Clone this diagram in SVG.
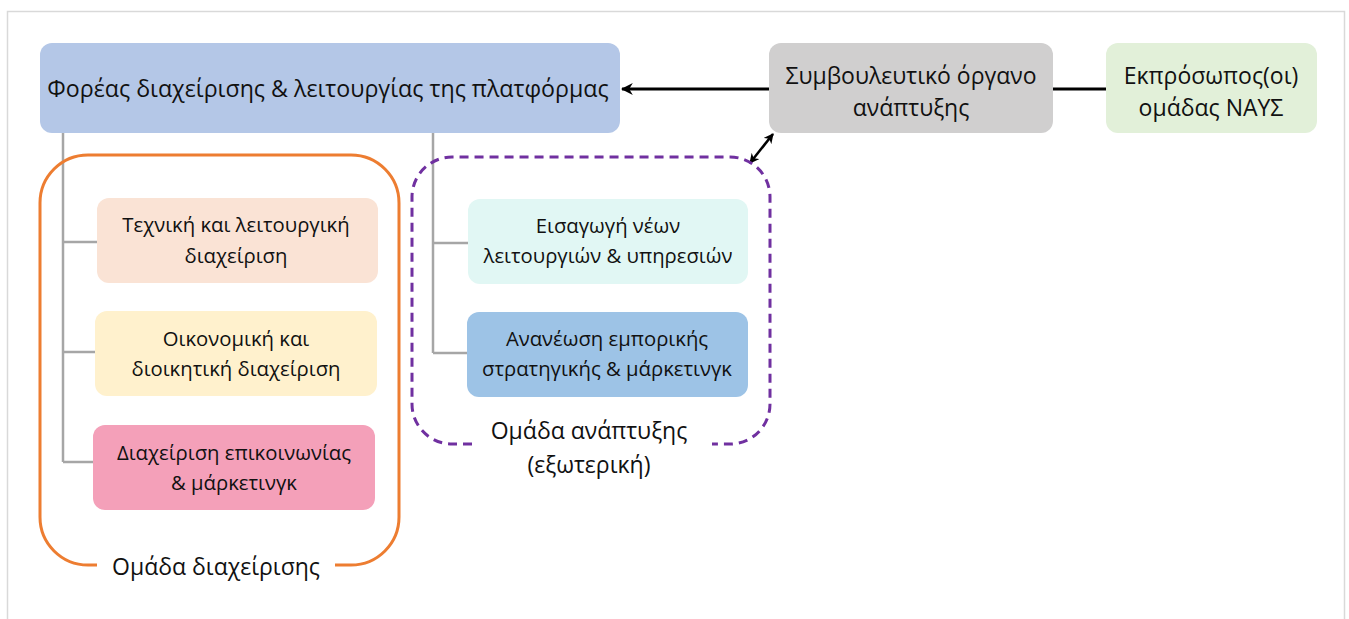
<svg xmlns="http://www.w3.org/2000/svg" width="1349" height="619" viewBox="0 0 1349 619">
<defs>
<marker id="ah" viewBox="0 0 10 10" refX="9" refY="5" markerWidth="4" markerHeight="4" orient="auto-start-reverse" markerUnits="strokeWidth">
<path d="M0,0 L10,5 L0,10 L3,5 Z" fill="#000"/>
</marker>
<style>
.t{font-family:"Open Sans","Noto Sans",sans-serif;fill:#111;text-anchor:middle}
.s{font-size:20.3px}
.m{font-size:23px}
.tree{stroke:#a6a6a6;stroke-width:2.5;fill:none}
</style>
</defs>
<rect width="1349" height="619" fill="#fff"/>
<rect x="7.5" y="11.5" width="1337" height="640" fill="none" stroke="#d9d9d9" stroke-width="1.5"/>

<g id="connectors">
<path class="tree" d="M63,133 V462 M63,242 H97 M63,352 H95 M63,462 H93"/>
<path class="tree" d="M433,133 V353 M433,243 H468 M433,353 H467"/>
<line x1="769" y1="89" x2="622" y2="89" stroke="#000" stroke-width="3" marker-end="url(#ah)"/>
<line x1="1053" y1="89" x2="1106" y2="89" stroke="#000" stroke-width="3"/>
<line x1="773" y1="134" x2="750" y2="163" stroke="#000" stroke-width="2.5" marker-start="url(#ah)" marker-end="url(#ah)"/>
</g>

<g id="group-management">
<path d="M97,565 H88 A48,48 0 0 1 40,517 V203 A48,48 0 0 1 88,155 H351 A48,48 0 0 1 399,203 V517 A48,48 0 0 1 351,565 H335" fill="none" stroke="#ed7d31" stroke-width="3"/>
<text class="t" x="216" y="575" font-size="23">Ομάδα διαχείρισης</text>
</g>

<g id="group-development">
<path d="M472,444 H452 A40,40 0 0 1 412,404 V197 A40,40 0 0 1 452,157 H730 A40,40 0 0 1 770,197 V404 A40,40 0 0 1 730,444 H712" fill="none" stroke="#7030a0" stroke-width="3" stroke-dasharray="9,6"/>
<text class="t" x="589" y="439" font-size="23">Ομάδα ανάπτυξης</text>
<text class="t" x="589" y="473" font-size="23">(εξωτερική)</text>
</g>

<g id="node-main">
<rect x="40" y="43" width="580" height="90" rx="12" fill="#b4c7e7"/>
<text class="t" x="328" y="97" font-size="23.2">Φορέας διαχείρισης &amp; λειτουργίας της πλατφόρμας</text>
</g>

<g id="node-advisory">
<rect x="769" y="43" width="284" height="90" rx="12" fill="#d0cfcf"/>
<text class="t m" x="911" y="84">Συμβουλευτικό όργανο</text>
<text class="t m" x="911" y="116">ανάπτυξης</text>
</g>

<g id="node-naus">
<rect x="1106" y="43" width="211" height="90" rx="12" fill="#e2f0d9"/>
<text class="t m" x="1211" y="84">Εκπρόσωπος(οι)</text>
<text class="t m" x="1211" y="116">ομάδας ΝΑΥΣ</text>
</g>

<g id="node-tech">
<rect x="97" y="198" width="281" height="85" rx="12" fill="#fae3d5"/>
<text class="t s" x="236" y="232">Τεχνική και λειτουργική</text>
<text class="t s" x="236" y="263">διαχείριση</text>
</g>

<g id="node-finance">
<rect x="95" y="311" width="282" height="85" rx="12" fill="#fff1cd"/>
<text class="t s" x="236" y="346">Οικονομική και</text>
<text class="t s" x="236" y="376">διοικητική διαχείριση</text>
</g>

<g id="node-comm">
<rect x="93" y="425" width="282" height="85" rx="12" fill="#f4a0b9"/>
<text class="t s" x="234" y="460">Διαχείριση επικοινωνίας</text>
<text class="t s" x="234" y="490">&amp; μάρκετινγκ</text>
</g>

<g id="node-new">
<rect x="468" y="199" width="280" height="85" rx="12" fill="#e1f7f4"/>
<text class="t s" x="608" y="233">Εισαγωγή νέων</text>
<text class="t s" x="608" y="263">λειτουργιών &amp; υπηρεσιών</text>
</g>

<g id="node-renew">
<rect x="467" y="312" width="281" height="85" rx="12" fill="#9dc3e6"/>
<text class="t s" x="607" y="346">Ανανέωση εμπορικής</text>
<text class="t s" x="607" y="376">στρατηγικής &amp; μάρκετινγκ</text>
</g>
</svg>
